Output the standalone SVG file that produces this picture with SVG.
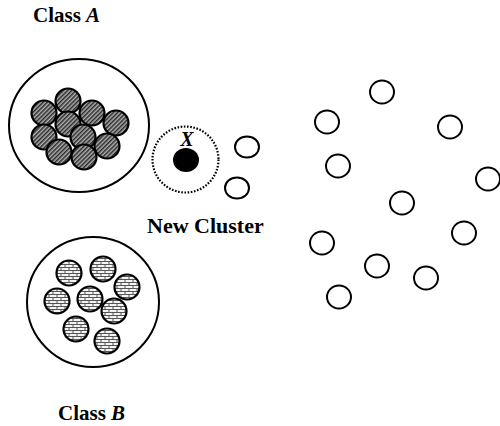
<svg xmlns="http://www.w3.org/2000/svg" width="500" height="426" viewBox="0 0 500 426">
  <style>
    .ring { fill: none; stroke: #000; stroke-width: 2; }
    .pt { fill: #fff; stroke: #000; stroke-width: 2; }
    .hatch { fill: url(#diag); stroke: #000; stroke-width: 2.2; }
    .brick { fill: url(#bricks); stroke: #000; stroke-width: 2.2; }
    .label { font-family: "Liberation Serif", "Times New Roman", serif; font-weight: bold; font-size: 21px; fill: #000; }
  </style>
  <defs>
    <!-- dense diagonal hatching for class A members -->
    <pattern id="diag" width="3" height="3" patternUnits="userSpaceOnUse" patternTransform="rotate(45)">
      <rect width="3" height="3" fill="#b0b0b0"/>
      <rect width="1.5" height="3" fill="#2a2a2a"/>
    </pattern>
    <!-- brick fill for class B members -->
    <pattern id="bricks" width="8" height="6" patternUnits="userSpaceOnUse">
      <rect width="8" height="6" fill="#f4f4f4"/>
      <path d="M0 0.5H8M0 3.5H8M1 0.5V3.5M5 3.5V6.5" stroke="#444" stroke-width="0.9" fill="none"/>
    </pattern>
  </defs>

  <!-- Class A -->
  <g id="classA">
    <ellipse class="ring" cx="79" cy="125.5" rx="70" ry="66.5"/>
    <circle class="hatch" cx="68" cy="101" r="12.5"/>
    <circle class="hatch" cx="44" cy="113" r="12.5"/>
    <circle class="hatch" cx="92" cy="113" r="12.5"/>
    <circle class="hatch" cx="116" cy="123" r="12.5"/>
    <circle class="hatch" cx="68" cy="124" r="12.5"/>
    <circle class="hatch" cx="44" cy="137" r="12.5"/>
    <circle class="hatch" cx="83" cy="137" r="12.5"/>
    <circle class="hatch" cx="107" cy="146" r="12.5"/>
    <circle class="hatch" cx="59" cy="152" r="12.5"/>
    <circle class="hatch" cx="84" cy="157" r="12.5"/>
  </g>
  <text class="label" x="33" y="22">Class <tspan font-style="italic">A</tspan></text>

  <!-- Class B -->
  <g id="classB">
    <ellipse class="ring" cx="93" cy="302" rx="66" ry="65"/>
    <circle class="brick" cx="69" cy="273" r="12.5"/>
    <circle class="brick" cx="103" cy="269" r="12.5"/>
    <circle class="brick" cx="127" cy="287" r="12.5"/>
    <circle class="brick" cx="57" cy="301" r="12.5"/>
    <circle class="brick" cx="90" cy="299" r="12.5"/>
    <circle class="brick" cx="114" cy="311" r="12.5"/>
    <circle class="brick" cx="76" cy="329" r="12.5"/>
    <circle class="brick" cx="107" cy="341" r="12.5"/>
  </g>
  <text class="label" x="58" y="420">Class <tspan font-style="italic">B</tspan></text>

  <!-- New cluster around sample X -->
  <g id="newCluster">
    <circle cx="185.5" cy="159.5" r="33" fill="none" stroke="#000" stroke-width="2.2" stroke-dasharray="1.6 1.6"/>
    <ellipse cx="186" cy="160" rx="13" ry="12" fill="#000"/>
    <text x="187" y="146" text-anchor="middle" font-family="Liberation Serif, 'Times New Roman', serif" font-style="italic" font-weight="bold" font-size="20">X</text>
  </g>
  <text class="label" x="147" y="233" font-size="22" style="font-size:22px">New Cluster</text>

  <!-- unlabelled samples -->
  <g id="samples">
    <ellipse class="pt" cx="247" cy="147" rx="12" ry="10.5"/>
    <ellipse class="pt" cx="237" cy="188" rx="12" ry="10.5"/>
    <ellipse class="pt" cx="382" cy="92" rx="12" ry="11.5"/>
    <ellipse class="pt" cx="327" cy="122" rx="12" ry="11.5"/>
    <ellipse class="pt" cx="450" cy="127" rx="12" ry="11.5"/>
    <ellipse class="pt" cx="338" cy="166" rx="12" ry="11.5"/>
    <ellipse class="pt" cx="488" cy="179" rx="12" ry="11.5"/>
    <ellipse class="pt" cx="402" cy="203" rx="12" ry="11.5"/>
    <ellipse class="pt" cx="464" cy="233" rx="12" ry="11.5"/>
    <ellipse class="pt" cx="322" cy="243" rx="12" ry="11.5"/>
    <ellipse class="pt" cx="377" cy="266" rx="12" ry="11.5"/>
    <ellipse class="pt" cx="426" cy="278" rx="12" ry="11.5"/>
    <ellipse class="pt" cx="339" cy="297" rx="12" ry="11.5"/>
  </g>
</svg>
